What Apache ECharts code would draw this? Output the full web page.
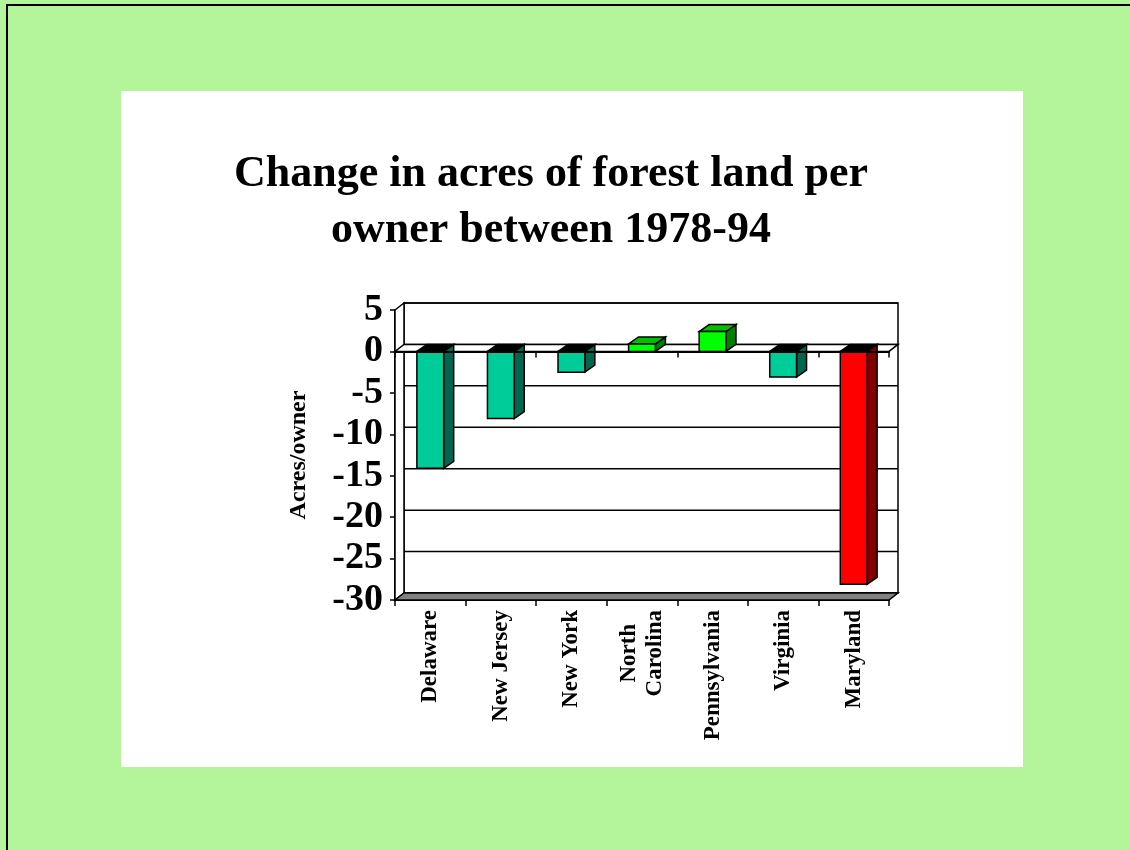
<!DOCTYPE html>
<html>
<head>
<meta charset="utf-8">
<title>Change in acres of forest land per owner between 1978-94</title>
<script src="https://cdn.jsdelivr.net/npm/echarts@6/dist/echarts.min.js"></script>
<style>
  html, body { margin: 0; padding: 0; width: 1130px; height: 850px; overflow: hidden; background: #b4f49a; }
  #frame { position: absolute; left: 6px; top: 4px; width: 1200px; height: 900px;
           border-left: 2px solid #000; border-top: 2px solid #000; }
  #panel { position: absolute; left: 121px; top: 91px; width: 902px; height: 676px; background: #fff; }
  #chart { position: absolute; left: 0; top: 0; width: 1130px; height: 850px; }
</style>
</head>
<body>
<div id="frame"></div>
<div id="panel"></div>
<div id="chart"></div>
<script>
// States and the change in forest acres per owner, 1978-94
const categories = ['Delaware', 'New Jersey', 'New York', 'North\nCarolina', 'Pennsylvania', 'Virginia', 'Maryland'];
const acresPerOwner = [-14.1, -8.1, -2.5, 0.9, 2.4, -3.1, -28.1];
const yTicks = [5, 0, -5, -10, -15, -20, -25, -30];
const highlighted = 'Maryland';

// face colours: [front, side, top]
const LOSS = ['#00cc99', '#006650', '#000000'];
const GAIN = ['#00ff00', '#008000', '#00c000'];
const HIGHLIGHT = ['#ff0000', '#800000', '#000000'];

// pseudo-3D depth of the plot box and of the bars
const DX = 9, DY = -7;
const BDX = 10, BDY = -7;
const SERIF = '"Liberation Serif", "Times New Roman", serif';

const yMax = yTicks[0];
const yMin = yTicks[yTicks.length - 1];

const chart = echarts.init(document.getElementById('chart'), null, { renderer: 'canvas' });

function line(x1, y1, x2, y2, w) {
  return { type: 'line', shape: { x1, y1, x2, y2 }, style: { stroke: '#000', lineWidth: w || 1.5 } };
}
function poly(points, fill) {
  return { type: 'polygon', shape: { points }, style: { fill, stroke: '#000', lineWidth: 1.5 } };
}

// back wall, left wall, floor and zero plane of the box
function renderFrame(params, api) {
  const band = api.size([1, 0])[0];
  const L = api.coord([0, 0])[0] - band / 2;
  const R = api.coord([categories.length - 1, 0])[0] + band / 2;
  const T = api.coord([0, yMax])[1];
  const B = api.coord([0, yMin])[1];
  const Z = api.coord([0, 0])[1];
  const kids = [];
  kids.push({ type: 'rect', shape: { x: L + DX, y: T + DY, width: R - L, height: B - T },
              style: { fill: '#fff', stroke: '#000', lineWidth: 1.5 } });
  kids.push(poly([[L, T], [L + DX, T + DY], [L + DX, B + DY], [L, B]], '#fff'));
  yTicks.forEach(function (t) {
    const y = api.coord([0, t])[1];
    kids.push(line(L + DX, y + DY, R + DX, y + DY, 1.5));
  });
  kids.push(poly([[L, B], [R, B], [R + DX, B + DY], [L + DX, B + DY]], '#808080'));
  kids.push(poly([[L, Z], [R, Z], [R + DX, Z + DY], [L + DX, Z + DY]], '#fff'));
  return { type: 'group', children: kids };
}

function facesFor(i, v) {
  if (categories[i] === highlighted) return HIGHLIGHT;
  return v >= 0 ? GAIN : LOSS;
}

function renderBar(params, api) {
  const i = api.value(0);
  const v = api.value(1);
  const p0 = api.coord([i, 0]);
  const p1 = api.coord([i, v]);
  const bw = api.size([1, 0])[0] * 0.38;
  const x0 = p0[0] - bw / 2, x1 = p0[0] + bw / 2;
  const yTop = Math.min(p0[1], p1[1]);
  const yBot = Math.max(p0[1], p1[1]);
  const c = facesFor(i, v);
  return {
    type: 'group',
    children: [
      poly([[x1, yTop], [x1 + BDX, yTop + BDY], [x1 + BDX, yBot + BDY], [x1, yBot]], c[1]),
      poly([[x0, yTop], [x0 + BDX, yTop + BDY], [x1 + BDX, yTop + BDY], [x1, yTop]], c[2]),
      { type: 'rect', shape: { x: x0, y: yTop, width: bw, height: yBot - yTop },
        style: { fill: c[0], stroke: '#000', lineWidth: 1.5 } }
    ]
  };
}

const option = {
  animation: false,
  backgroundColor: 'transparent',
  title: {
    text: 'Change in acres of forest land per\nowner between 1978-94',
    left: 551,
    top: 147,
    padding: 0,
    textAlign: 'center',
    textStyle: { fontFamily: SERIF, fontWeight: 'bold', fontSize: 44, lineHeight: 56, color: '#000' }
  },
  grid: { left: 395, right: 241, top: 310, bottom: 250, containLabel: false },
  xAxis: [
    {
      type: 'category',
      data: categories,
      position: 'bottom',
      boundaryGap: true,
      axisLine: { onZero: false, lineStyle: { color: '#000', width: 2 } },
      axisTick: { show: true, length: 6, lineStyle: { color: '#000', width: 1.5 } },
      axisLabel: {
        rotate: 90,
        margin: 10,
        interval: 0,
        color: '#000',
        fontFamily: SERIF,
        fontWeight: 'bold',
        fontSize: 23,
        lineHeight: 26,
        formatter: function (v) { return v.split('\n').map(function (s) { return '{c|' + s + '}'; }).join('\n'); },
        rich: { c: { align: 'center', fontFamily: SERIF, fontWeight: 'bold', fontSize: 23, lineHeight: 26, color: '#000' } }
      },
      splitLine: { show: false }
    },
    {
      type: 'category',
      data: categories,
      position: 'top',
      boundaryGap: true,
      axisLine: { onZero: true, lineStyle: { color: '#000', width: 2 } },
      axisTick: { show: true, inside: true, length: 6, lineStyle: { color: '#000', width: 1.5 } },
      axisLabel: { show: false },
      splitLine: { show: false },
      z: 5
    }
  ],
  yAxis: {
    type: 'value',
    min: yMin,
    max: yMax,
    interval: 5,
    name: 'Acres/owner',
    nameLocation: 'middle',
    nameRotate: 90,
    nameGap: 84,
    nameTextStyle: { fontFamily: SERIF, fontWeight: 'bold', fontSize: 24, color: '#000' },
    axisLine: { show: true, lineStyle: { color: '#000', width: 2 } },
    axisTick: { show: true, length: 5, lineStyle: { color: '#000', width: 1.5 } },
    axisLabel: { margin: 12, color: '#000', fontFamily: SERIF, fontWeight: 'bold', fontSize: 38,
                 formatter: function (v) { return yTicks.indexOf(v) >= 0 ? String(v) : ''; } },
    splitLine: { show: false }
  },
  series: [
    {
      type: 'custom',
      name: 'frame',
      renderItem: renderFrame,
      data: [[0, 0]],
      clip: false,
      silent: true,
      z: 1
    },
    {
      type: 'custom',
      name: 'Acres/owner',
      renderItem: renderBar,
      data: acresPerOwner.map(function (v, i) { return [i, v]; }),
      encode: { x: 0, y: 1 },
      clip: false,
      z: 3
    }
  ]
};

chart.setOption(option);
</script>
</body>
</html>
